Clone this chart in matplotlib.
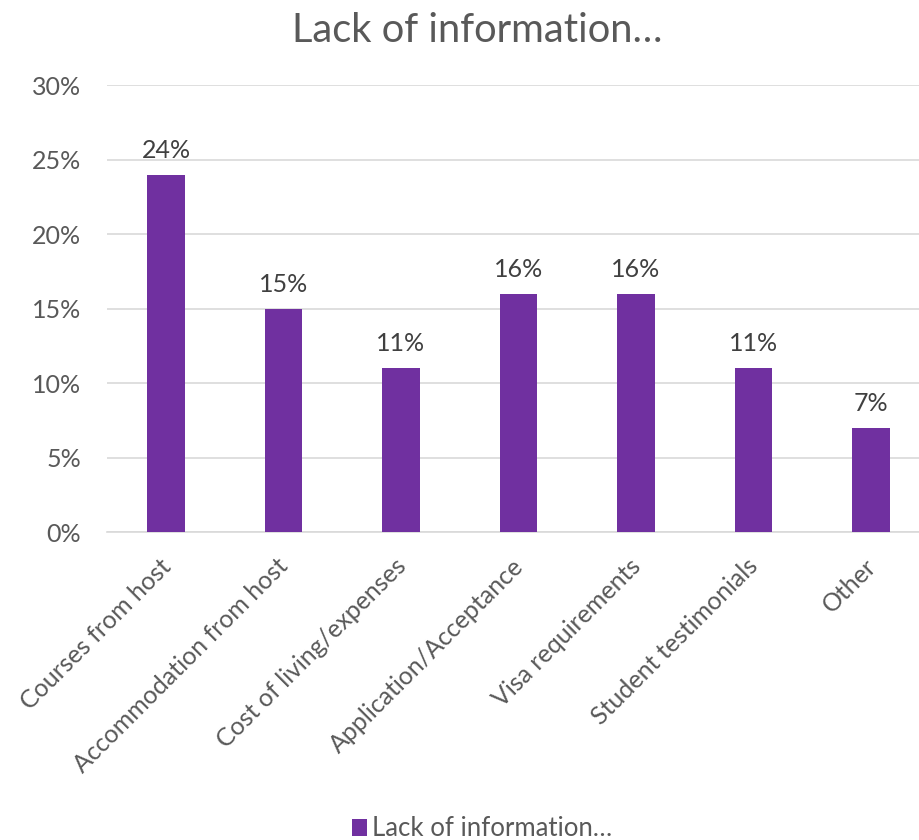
import matplotlib
matplotlib.use("Agg")
import matplotlib.pyplot as plt
from matplotlib.patches import Patch
from matplotlib.ticker import FuncFormatter
from matplotlib.transforms import ScaledTranslation

categories = ["Courses from host", "Accommodation from host", "Cost of living/expenses",
              "Application/Acceptance", "Visa requirements", "Student testimonials", "Other"]
values = [24, 15, 11, 16, 16, 11, 7]
series_name = "Lack of information\u2026"
title = "Lack of information\u2026"

plt.rcParams['font.family'] = ['Lato', 'DejaVu Sans']
grey = "#595959"
purple = "#7030A0"

fig = plt.figure(figsize=(9.19, 8.4), dpi=100)
ax = fig.add_axes([107.25/919, (840-532.3)/840, 822.5/919, (532.3-85.3)/840])

x = list(range(len(categories)))
ax.bar(x, values, width=0.315, color=purple, zorder=3)
for xi, v in zip(x, values):
    ax.annotate(f"{v}%", (xi, v), xytext=(0, 9.5), textcoords="offset points",
                ha="center", va="bottom", fontsize=18, color="#404040")

ax.set_xlim(-0.5, len(categories) - 0.5)
ax.set_ylim(0, 30)
ax.set_yticks(range(0, 31, 5))
ax.yaxis.set_major_formatter(FuncFormatter(lambda v, p: f"{int(v)}%"))
ax.grid(axis="y", color="#D9D9D9", linewidth=1.2, zorder=0)
for s in ["top", "right", "left"]:
    ax.spines[s].set_visible(False)
ax.spines["bottom"].set_color("#D9D9D9")
ax.spines["bottom"].set_linewidth(1.2)
ax.tick_params(axis="both", length=0, colors=grey, labelsize=18)
ax.tick_params(axis="y", pad=19)
ax.set_xticks(x)
ax.set_xticklabels(categories, rotation=45, ha="right", rotation_mode="anchor")
ax.tick_params(axis="x", pad=16)
offset = ScaledTranslation(-7/100, 0, fig.dpi_scale_trans)
for lbl in ax.get_xticklabels():
    lbl.set_transform(lbl.get_transform() + offset)

fig.text(477.5/919, 1 - 30/840, title, ha="center", va="center", fontsize=28.7, color=grey)

handle = Patch(facecolor=purple, edgecolor="none")
fig.legend([handle], [series_name], loc="center", bbox_to_anchor=(482/919, 1 - 829/840),
           frameon=False, fontsize=18.5, labelcolor=grey, handlelength=0.6, handleheight=0.6,
           handletextpad=0.2)

fig.savefig("out.png", dpi=100)
